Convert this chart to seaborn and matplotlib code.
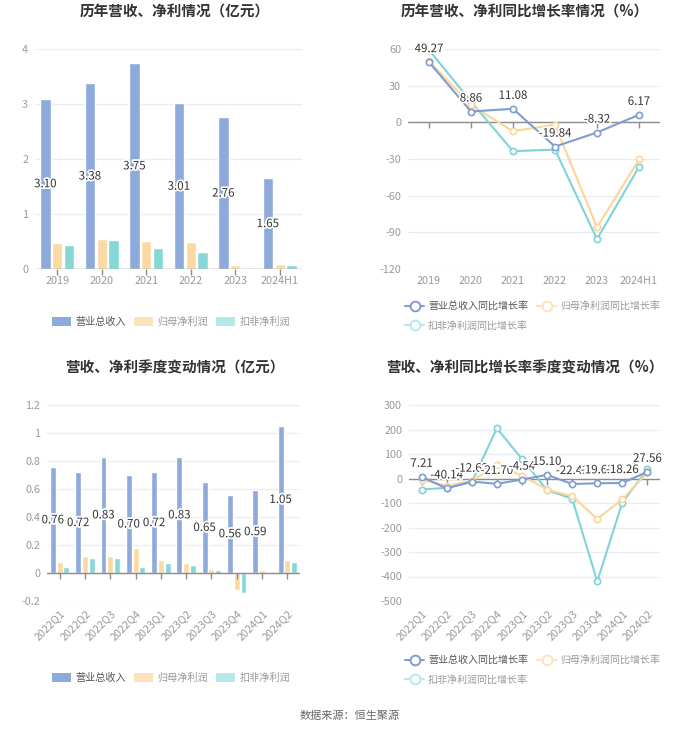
import numpy as np
import pandas as pd
import matplotlib
matplotlib.use("Agg")
import matplotlib.pyplot as plt
import matplotlib.patheffects as pe
from matplotlib.lines import Line2D
from matplotlib.patches import Patch
import seaborn as sns

sns.set_theme(style="white")
plt.rcParams['font.family'] = ['Noto Sans CJK SC', 'DejaVu Sans']
plt.rcParams['axes.unicode_minus'] = False

# ---------------- data ----------------
years = ["2019", "2020", "2021", "2022", "2023", "2024H1"]
rev_year = [3.10, 3.38, 3.75, 3.01, 2.76, 1.65]
np_year = [0.47, 0.55, 0.51, 0.50, 0.07, 0.10]
dnp_year = [0.44, 0.52, 0.39, 0.31, 0.005, 0.08]

rev_g_year = [49.27, 8.86, 11.08, -19.84, -8.32, 6.17]
np_g_year = [50.2, 14.0, -7.3, -1.9, -86.0, -30.4]
dnp_g_year = [59.2, 17.0, -23.6, -22.3, -95.6, -36.4]

quarters = ["2022Q1", "2022Q2", "2022Q3", "2022Q4", "2023Q1", "2023Q2",
            "2023Q3", "2023Q4", "2024Q1", "2024Q2"]
rev_q = [0.76, 0.72, 0.83, 0.70, 0.72, 0.83, 0.65, 0.56, 0.59, 1.05]
np_q = [0.08, 0.12, 0.12, 0.18, 0.09, 0.07, 0.03, -0.12, 0.02, 0.09]
dnp_q = [0.04, 0.11, 0.11, 0.04, 0.07, 0.06, 0.02, -0.14, 0.003, 0.08]

rev_g_q = [7.21, -40.14, -12.62, -21.70, -4.54, 15.10, -22.43, -19.63, -18.26, 27.56]
np_g_q = [-5, -30, -10, 55, 12, -45, -72, -165, -85, 25]
dnp_g_q = [-45, -38, -15, 205, 80, -48, -82, -420, -98, 38]

bar_names = ["营业总收入", "归母净利润", "扣非净利润"]
line_names = ["营业总收入同比增长率", "归母净利润同比增长率", "扣非净利润同比增长率"]

titles = ["历年营收、净利情况（亿元）", "历年营收、净利同比增长率情况（%）",
          "营收、净利季度变动情况（亿元）", "营收、净利同比增长率季度变动情况（%）"]
source = "数据来源：恒生聚源"

# ---------------- style ----------------
bar_colors = ["#8eaadb", "#fdd9a2", "#86d8d6"]
line_colors = ["#7f9dd1", "#fdd598", "#7fd3d9"]
grid_c = "#e9ecf0"
tick_c = "#9a9a9a"
axis_c = "#8c8c8c"
txt_c = "#333333"

W, H = 700, 734
fig = plt.figure(figsize=(W / 100, H / 100), dpi=100)
fig.patch.set_facecolor("white")


def add_ax(left, right, top, bottom):
    return fig.add_axes([left / W, 1 - bottom / H, (right - left) / W, (bottom - top) / H])


def style_ax(ax, yticks, ylim, xlim):
    ax.set_ylim(*ylim)
    ax.set_xlim(*xlim)
    ax.set_yticks(yticks)
    ax.grid(False)
    for y in yticks:
        ax.axhline(y, color=grid_c, lw=0.9, zorder=0)
    for s in ax.spines.values():
        s.set_visible(False)
    ax.tick_params(axis="both", length=0, colors=tick_c, labelsize=7.8, pad=5)
    ax.set_xlabel("")
    ax.set_ylabel("")
    ax.set_facecolor("white")


def zero_axis(ax, n):
    ax.axhline(0, color=axis_c, lw=1.0, zorder=3)
    ax.plot(np.arange(n), np.zeros(n), linestyle="none", marker=3,
            markersize=4, color=axis_c, zorder=3, clip_on=False)


halo = [pe.withStroke(linewidth=2.5, foreground="white")]


def bar_chart(ax, cats, rev, npv, dnp, yticks, ylim, fmt_ticks, rotate):
    df = pd.DataFrame({
        "cat": cats * 3,
        "val": rev + npv + dnp,
        "kind": [bar_names[0]] * len(cats) + [bar_names[1]] * len(cats) + [bar_names[2]] * len(cats),
    })
    sns.barplot(data=df, x="cat", y="val", hue="kind", palette=bar_colors,
                width=0.8, gap=0.12, ax=ax, legend=False, zorder=2, saturation=1)
    style_ax(ax, yticks, ylim, (-0.5, len(cats) - 0.5))
    ax.set_yticklabels(fmt_ticks)
    zero_axis(ax, len(cats))
    ax.bar_label(ax.containers[0], labels=[f"{v:.2f}" for v in rev], label_type="center",
                 fontsize=8.3, color=txt_c, path_effects=halo, zorder=5)
    if rotate:
        ax.set_xticks(range(len(cats)))
        ax.set_xticklabels(cats, rotation=45, ha="right", rotation_mode="anchor")


def line_chart(ax, cats, series, yticks, ylim, rotate):
    x = np.arange(len(cats))
    for vals, c in zip(series[::-1], line_colors[::-1]):
        sns.lineplot(x=x, y=vals, ax=ax, color=c, lw=1.5, marker="o", markersize=4.5,
                     markerfacecolor="white", markeredgecolor=c, markeredgewidth=1.2,
                     zorder=4, legend=False)
    style_ax(ax, yticks, ylim, (-0.5, len(cats) - 0.5))
    ax.set_yticklabels([str(t) for t in yticks])
    zero_axis(ax, len(cats))
    ax.set_xticks(x)
    if rotate:
        ax.set_xticklabels(cats, rotation=45, ha="right", rotation_mode="anchor")
    else:
        ax.set_xticklabels(cats)
    for xi, v in zip(x, series[0]):
        ax.annotate(f"{v:.2f}", (xi, v), xytext=(0, 5), textcoords="offset points",
                    ha="center", va="bottom", fontsize=8.3, color=txt_c,
                    path_effects=halo, zorder=6)


# top-left
ax1 = add_ax(35, 302, 49, 269)
bar_chart(ax1, years, rev_year, np_year, dnp_year, [0, 1, 2, 3, 4], (0, 4),
          ["0", "1", "2", "3", "4"], False)

# top-right
ax2 = add_ax(408, 660, 49, 269)
line_chart(ax2, years, [rev_g_year, np_g_year, dnp_g_year],
           [-120, -90, -60, -30, 0, 30, 60], (-120, 60), False)

# bottom-left
ax3 = add_ax(47, 300, 405, 601)
qt = [-0.2, 0, 0.2, 0.4, 0.6, 0.8, 1.0, 1.2]
bar_chart(ax3, quarters, rev_q, np_q, dnp_q, qt, (-0.2, 1.2),
          ["-0.2", "0", "0.2", "0.4", "0.6", "0.8", "1", "1.2"], True)

# bottom-right
ax4 = add_ax(409, 660, 405, 601)
line_chart(ax4, quarters, [rev_g_q, np_g_q, dnp_g_q],
           [-500, -400, -300, -200, -100, 0, 100, 200, 300], (-500, 300), True)

# titles
for t, xc, yc in zip(titles, [175, 525, 175, 525], [12, 12, 368, 368]):
    fig.text(xc / W, 1 - yc / H, t, ha="center", va="center", fontsize=10.5,
             fontweight="bold", color=txt_c)

# bar legends
bar_handles = [Patch(facecolor=c, edgecolor="none") for c in ["#8eaadb", "#fde3bd", "#b5e8e8"]]
for yc in [322, 678]:
    leg = fig.legend(bar_handles, bar_names, loc="center", bbox_to_anchor=(171 / W, 1 - yc / H),
                     ncol=3, frameon=False, fontsize=7.3, handlelength=1.9, handleheight=1.0,
                     columnspacing=0.8, handletextpad=0.4)
    for i, tx in enumerate(leg.get_texts()):
        tx.set_color("#555555" if i == 0 else "#999999")

# line legends (row order: blue, orange / cyan)
line_handles = [Line2D([0], [0], color=c, lw=1.5, marker="o", markersize=7,
                       markerfacecolor="white", markeredgecolor=c, markeredgewidth=1.4)
                for c in ["#7f9dd1", "#fde3bd", "#b5e8ee"]]
order = [0, 2, 1]
for yc in [304, 658]:
    leg = fig.legend([line_handles[i] for i in order], [line_names[i] for i in order],
                     loc="upper left", bbox_to_anchor=(396 / W, 1 - (yc - 12) / H),
                     ncol=2, frameon=False, fontsize=7.2, handlelength=1.9,
                     columnspacing=0.9, handletextpad=0.4, labelspacing=0.95)
    for tx in leg.get_texts():
        tx.set_color("#555555" if tx.get_text() == line_names[0] else "#999999")

fig.text(350 / W, 1 - 716 / H, source, ha="center", va="center", fontsize=8, color="#666666")

fig.savefig("out.png", dpi=100, facecolor="white")
